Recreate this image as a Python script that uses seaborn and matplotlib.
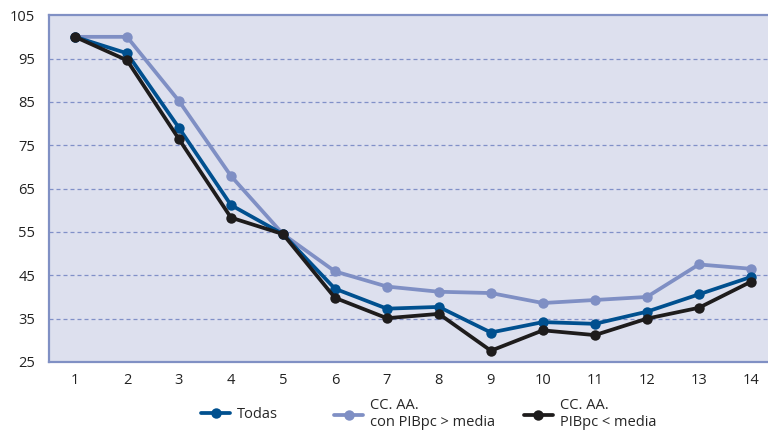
import matplotlib
matplotlib.use("Agg")
import matplotlib.pyplot as plt
from matplotlib.lines import Line2D
import seaborn as sns
import pandas as pd

periodos = list(range(1, 15))
todas = [100, 96.2, 79.0, 61.2, 54.5, 41.9, 37.3, 37.7, 31.8, 34.2, 33.8, 36.6, 40.6, 44.6]
pib_mayor = [100, 100, 85.2, 67.9, 54.5, 45.9, 42.4, 41.2, 40.9, 38.6, 39.3, 40.0, 47.5, 46.5]
pib_menor = [100, 94.6, 76.4, 58.3, 54.5, 39.8, 35.1, 36.1, 27.6, 32.3, 31.2, 35.0, 37.5, 43.5]
yticks = [25, 35, 45, 55, 65, 75, 85, 95, 105]

series = {
    "Todas": (todas, "#00508f"),
    "CC. AA.\ncon PIBpc > media": (pib_mayor, "#7f8fc4"),
    "CC. AA.\nPIBpc < media": (pib_menor, "#1e1c1c"),
}

sns.set_theme(style="white")
plt.rcParams["font.family"] = ["Open Sans", "DejaVu Sans"]

fig = plt.figure(figsize=(7.68, 4.33), dpi=100)
ax = fig.add_axes([0.0638, 0.164, 0.9362, 0.801])
ax.set_facecolor("#dde0ee")

# draw lighter series first so the darker ones sit on top
for name in ["CC. AA.\ncon PIBpc > media", "Todas", "CC. AA.\nPIBpc < media"]:
    vals, color = series[name]
    df = pd.DataFrame({"periodo": periodos, "valor": vals})
    sns.lineplot(data=df, x="periodo", y="valor", ax=ax, color=color,
                 linewidth=2.7, marker="o", markersize=7.5,
                 markeredgewidth=0, legend=False)

ax.set_xlim(0.5, 14.33)
ax.set_ylim(25, 105)
ax.set_xticks(periodos)
ax.set_yticks(yticks)
ax.tick_params(axis="both", length=0, labelsize=10.5, colors="#222222")
ax.tick_params(axis="x", pad=8)
ax.tick_params(axis="y", pad=10)
ax.set_xlabel("")
ax.set_ylabel("")

for yv in yticks[1:-1]:
    ax.axhline(yv, color="#8090c8", linewidth=0.9, linestyle=(0, (3.2, 2.4)), zorder=1)

for side in ["left", "bottom", "top"]:
    ax.spines[side].set_visible(True)
    ax.spines[side].set_color("#8090c4")
    ax.spines[side].set_linewidth(1.6)
ax.spines["right"].set_visible(False)

# one legend entry per block, spread under the plot
positions = {"Todas": 0.262, "CC. AA.\ncon PIBpc > media": 0.435, "CC. AA.\nPIBpc < media": 0.682}
for name, (vals, color) in series.items():
    h = Line2D([0], [0], color=color, linewidth=2.7, marker="o", markersize=7.5, markeredgewidth=0)
    fig.legend(handles=[h], labels=[name], loc="center left",
               bbox_to_anchor=(positions[name], 0.043), frameon=False,
               fontsize=10.5, handlelength=2.0, handletextpad=0.45,
               borderpad=0, borderaxespad=0, labelspacing=0.2)

fig.savefig("out.png", dpi=100)
